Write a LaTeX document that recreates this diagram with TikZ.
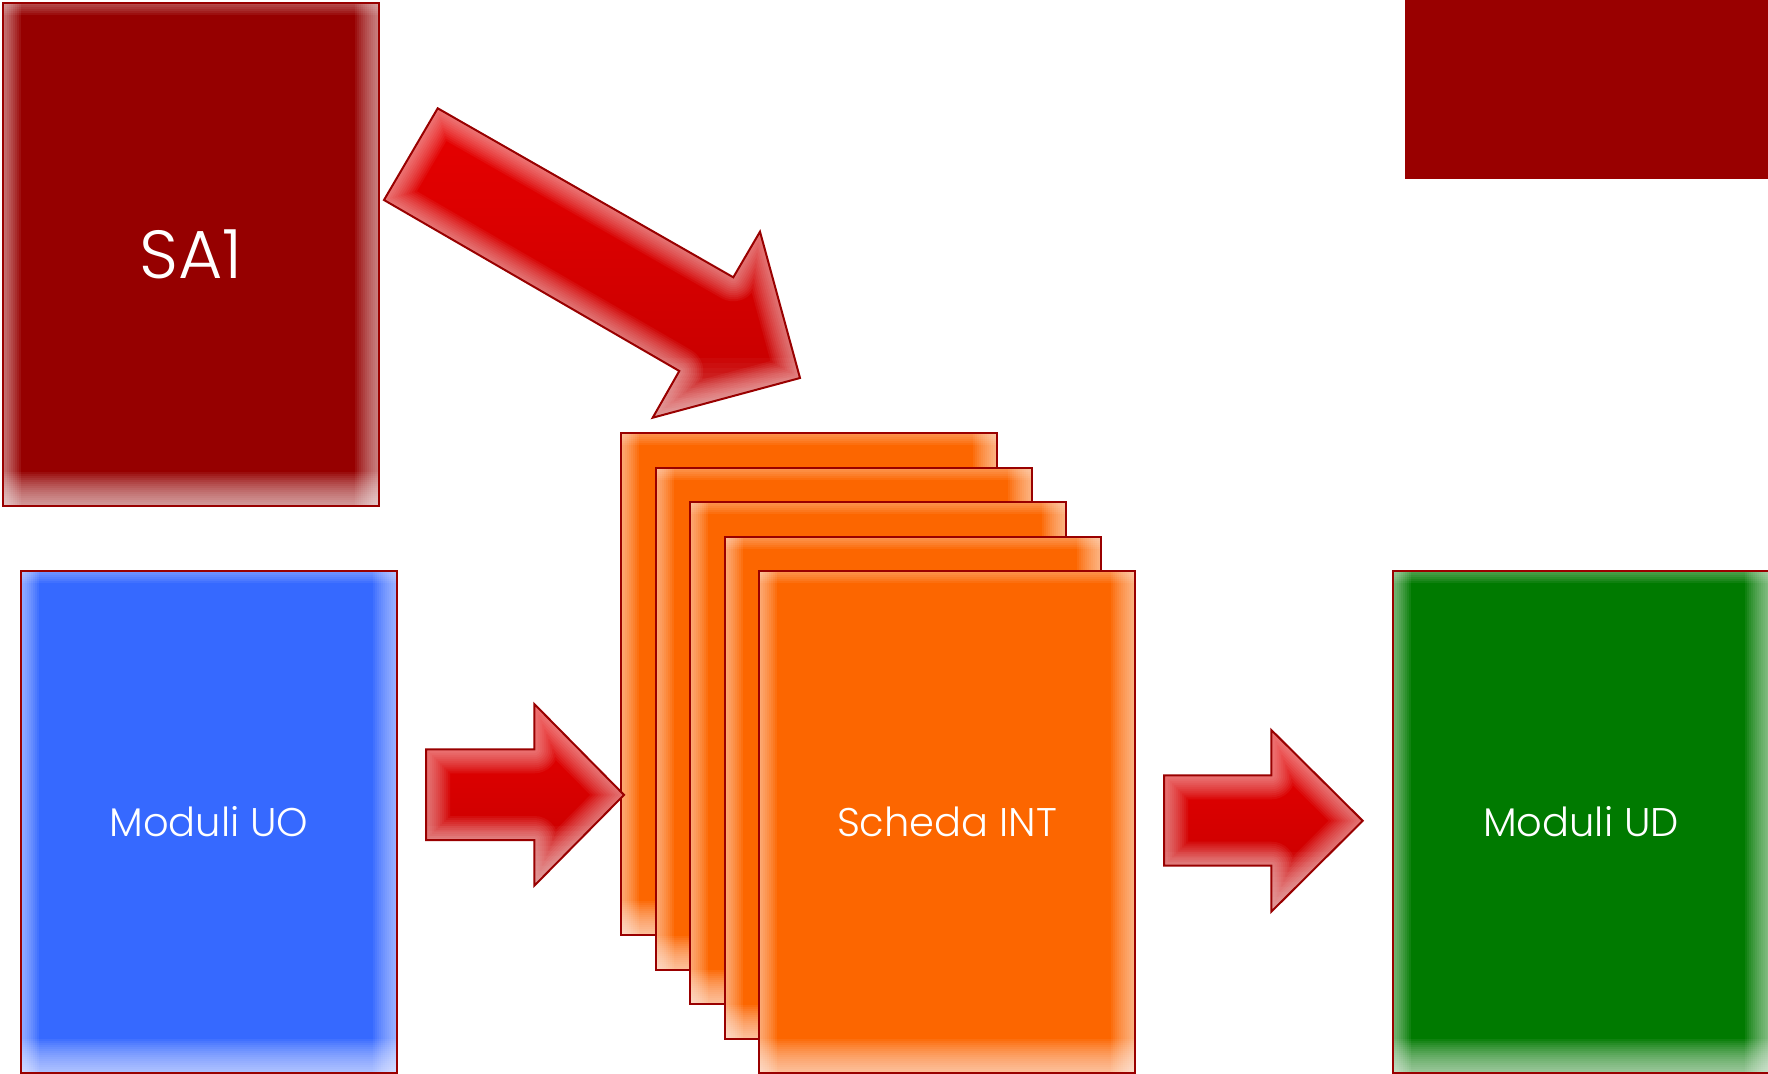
\documentclass[tikz,border=0pt]{standalone}
\usepackage{fontspec}
\setmainfont{Poppins Light}
\definecolor{bordercol}{HTML}{990000}
\definecolor{sacol}{HTML}{960000}
\definecolor{trcol}{HTML}{990000}
\definecolor{uocol}{HTML}{3669FF}
\definecolor{orcol}{HTML}{FC6600}
\definecolor{udcol}{HTML}{007A00}
\definecolor{arrtop}{HTML}{E80000}
\definecolor{arrbot}{HTML}{C40000}
\newcommand\blockarrow[2]{%
  \begin{scope}
    \clip #1;
    \shade[top color=arrtop, bottom color=arrbot] #1;
    \foreach \w in {4,8,...,48}{\draw[white, line width=\w pt, draw opacity=0.05, line join=round] #1;}
    \foreach \k in {1,...,12}{\fill[white, fill opacity=0.03] (0,#2) rectangle (1768,#2-5*\k);}
  \end{scope}
  \draw[bordercol, line width=2pt, line join=miter] #1;
}
\begin{document}
\begin{tikzpicture}[x=1pt, y=-1pt,
  soft/.style={path picture={
    \foreach \k in {1,...,9}{\fill[white, fill opacity=.065] (path picture bounding box.north west) rectangle ([xshift=\k*2pt]path picture bounding box.south west);}
    \foreach \k in {1,...,12}{\fill[white, fill opacity=.058] ([xshift=-\k*2pt]path picture bounding box.north east) rectangle (path picture bounding box.south east);}
    \foreach \k in {1,...,17}{\fill[white, fill opacity=.053] ([yshift=\k*2pt]path picture bounding box.south west) rectangle (path picture bounding box.south east);}
    \foreach \k in {1,...,6}{\fill[white, fill opacity=.058] (path picture bounding box.north west) rectangle ([yshift=-\k*2pt]path picture bounding box.north east);}
  }},
  box/.style={rectangle, inner sep=0pt, minimum width=376pt, minimum height=502pt, draw=bordercol, line width=2pt, text=white, font=\fontsize{40}{48}\selectfont, soft}
]
\useasboundingbox (0,0) rectangle (1768,1073);
\fill[white] (0,0) rectangle (1768,1073);
\node[box, fill=sacol, minimum height=503pt, font=\fontsize{68}{72}\selectfont] (sa1) at (191,254.5) {SA1};
\node[fill=trcol, inner sep=0pt, minimum width=380pt, minimum height=179pt, anchor=north west] (tr) at (1405,0) {};
\node[box, fill=uocol] (uo) at (209,822) {Moduli UO};
\foreach \i in {1,...,4} \node[box, fill=orcol] (o\i) at ({809+34.5*(\i-1)}, {684+34.5*(\i-1)}) {};
\node[box, fill=orcol] (o5) at (947,822) {Scheda INT};
\node[box, fill=udcol] (ud) at (1581,822) {Moduli UD};
\blockarrow{(437.7,108.3) -- (733.3,277.3) -- (760,231.7) -- (800,378) -- (652.7,417.7) -- (679.3,371) -- (384,200) -- cycle}{417.7}
\blockarrow{(426,749.3) -- (534.3,749.3) -- (534.3,704) -- (624,794.9) -- (534.3,885.7) -- (534.3,840) -- (426,840) -- cycle}{885.7}
\blockarrow{(1164,775.3) -- (1271.3,775.3) -- (1271.3,730) -- (1362.7,820.8) -- (1271.3,911.7) -- (1271.3,865.7) -- (1164,865.7) -- cycle}{911.7}
\end{tikzpicture}
\end{document}
